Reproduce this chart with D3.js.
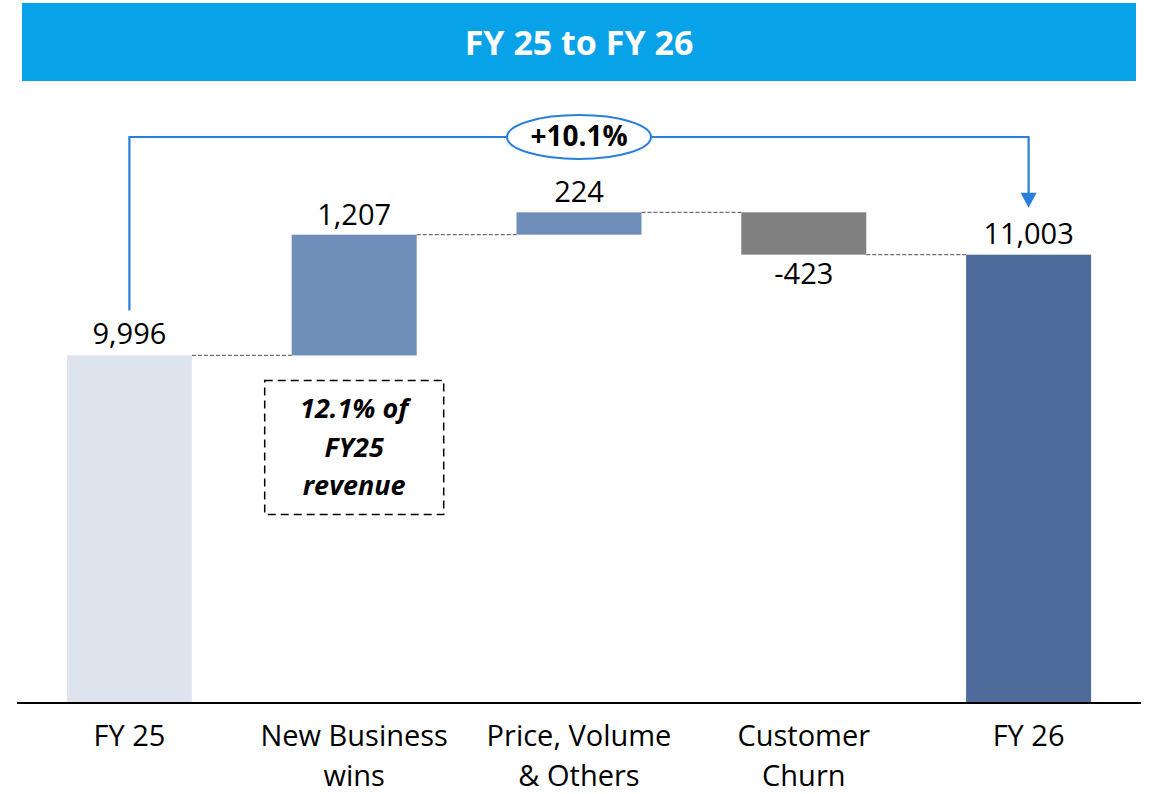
<html>
<head>
    <meta charset="utf-8">
    <title>FY 25 to FY 26</title>
</head>
<style>
    body { margin: 0; background: #fff; }
    text { font-family: "Open Sans", "Noto Sans", sans-serif; }
</style>
<body>
<svg width="1150" height="794"></svg>
<script src="https://d3js.org/d3.v7.min.js" charset="utf-8"></script>
<script>

    // data
    var categories = ['FY 25', 'New Business wins', 'Price, Volume & Others', 'Customer Churn', 'FY 26'];
    var categoryLines = [['FY 25'], ['New Business', 'wins'], ['Price, Volume', '& Others'], ['Customer', 'Churn'], ['FY 26']];
    var values = [9996, 1207, 224, -423, 11003];
    var kinds = ['total', 'delta', 'delta', 'delta', 'total'];
    var titleText = 'FY 25 to FY 26';
    var growthLabel = '+10.1%';
    var noteLines = ['12.1% of', 'FY25', 'revenue'];

    var barColors = ['#dee4ee', '#6f8fba', '#6f8fba', '#808080', '#4e6c9b'];
    var lineBlue = '#2a7fdb';

    // running totals -> start / end of each bar
    var run = 0;
    var bars = values.map(function (v, i) {
        var b = {cat: categories[i], value: v, kind: kinds[i], color: barColors[i], lines: categoryLines[i]};
        if (kinds[i] === 'total') {
            b.start = 0; b.end = v; run = v;
        } else {
            b.start = run; b.end = run + v; run = b.end;
        }
        return b;
    });

    var svg = d3.select('svg');

    var x = d3.scaleBand().domain(categories).range([17, 1141]).paddingInner(0.444).paddingOuter(0.222);
    // axis of the original is cut, it does not start at zero
    var y = d3.scaleLinear().domain([6520, 11520]).range([703, 203]);
    var bw = x.bandwidth();
    var fmt = d3.formatLocale({decimal: '.', thousands: ',', grouping: [3], currency: ['', ''], minus: '-'}).format(',');

    // title banner
    svg.append('rect')
        .attr('x', 22).attr('y', 3)
        .attr('width', 1114).attr('height', 78)
        .attr('fill', '#08a2e8');
    svg.append('text')
        .attr('x', 579).attr('y', 55)
        .attr('text-anchor', 'middle')
        .attr('font-size', '34px')
        .attr('font-weight', 'bold')
        .attr('fill', '#fff')
        .text(titleText);

    // connectors
    var links = bars.slice(0, -1).map(function (b, i) {
        return {x1: x(b.cat) + bw, x2: x(bars[i + 1].cat), v: b.kind === 'total' ? b.value : b.end};
    });
    svg.selectAll('.link').data(links).enter().append('line')
        .attr('class', 'link')
        .attr('x1', function (d) { return d.x1; })
        .attr('x2', function (d) { return d.x2; })
        .attr('y1', function (d) { return y(d.v); })
        .attr('y2', function (d) { return y(d.v); })
        .attr('stroke', '#6f6f6f')
        .attr('stroke-width', 1.3)
        .attr('stroke-dasharray', '4,2');

    // bars
    svg.selectAll('.bar').data(bars).enter().append('rect')
        .attr('class', 'bar')
        .attr('x', function (d) { return x(d.cat); })
        .attr('width', bw)
        .attr('y', function (d) {
            var top = d.kind === 'total' ? d.value : Math.max(d.start, d.end);
            return y(top);
        })
        .attr('height', function (d) {
            if (d.kind === 'total') return y.range()[0] - y(d.value);
            return Math.abs(y(d.start) - y(d.end));
        })
        .attr('fill', function (d) { return d.color; });

    // value labels
    svg.selectAll('.val').data(bars).enter().append('text')
        .attr('class', 'val')
        .attr('x', function (d) { return x(d.cat) + bw / 2; })
        .attr('y', function (d) {
            if (d.kind === 'total') return y(d.value) - 11;
            if (d.value < 0) return y(d.end) + 29;
            return y(d.end) - 10;
        })
        .attr('text-anchor', 'middle')
        .attr('font-size', '29px')
        .attr('fill', '#000')
        .text(function (d) { return fmt(d.value); });

    // baseline
    svg.append('line')
        .attr('x1', 17).attr('x2', 1141)
        .attr('y1', 703).attr('y2', 703)
        .attr('stroke', '#000')
        .attr('stroke-width', 2);

    // category labels
    var cat = svg.selectAll('.cat').data(bars).enter().append('text')
        .attr('class', 'cat')
        .attr('text-anchor', 'middle')
        .attr('font-size', '29px')
        .attr('fill', '#000');
    cat.selectAll('tspan').data(function (d) {
        return d.lines.map(function (l) { return {t: l, cx: x(d.cat) + bw / 2}; });
    }).enter().append('tspan')
        .attr('x', function (d) { return d.cx; })
        .attr('y', function (d, i) { return 746 + i * 40; })
        .text(function (d) { return d.t; });

    // growth bracket from FY 25 to FY 26
    var first = bars[0], last = bars[bars.length - 1];
    var bx1 = x(first.cat) + bw / 2, bx2 = x(last.cat) + bw / 2, by = 137;
    var tipY = y(last.value) - 47;
    svg.append('path')
        .attr('d', 'M' + bx1 + ',' + (y(first.value) - 45) + 'V' + by + 'H' + bx2 + 'V' + (tipY - 14))
        .attr('fill', 'none')
        .attr('stroke', lineBlue)
        .attr('stroke-width', 2.2);
    svg.append('path')
        .attr('d', 'M' + (bx2 - 8) + ',' + (tipY - 15) + 'L' + (bx2 + 8) + ',' + (tipY - 15) + 'L' + bx2 + ',' + tipY + 'Z')
        .attr('fill', lineBlue);

    svg.append('ellipse')
        .attr('cx', 579).attr('cy', by)
        .attr('rx', 72).attr('ry', 22)
        .attr('fill', '#fff')
        .attr('stroke', lineBlue)
        .attr('stroke-width', 2);
    svg.append('text')
        .attr('x', 579).attr('y', by + 9)
        .attr('text-anchor', 'middle')
        .attr('font-size', '28px')
        .attr('font-weight', 'bold')
        .attr('fill', '#000')
        .text(growthLabel);

    // note box under New Business wins
    var nb = bars[1];
    var ncx = x(nb.cat) + bw / 2, ntop = y(nb.start) + 25;
    svg.append('rect')
        .attr('x', ncx - 89.5).attr('y', ntop)
        .attr('width', 179).attr('height', 134)
        .attr('fill', 'none')
        .attr('stroke', '#000')
        .attr('stroke-width', 1.5)
        .attr('stroke-dasharray', '8,5');
    svg.append('text')
        .attr('text-anchor', 'middle')
        .attr('font-size', '27px')
        .attr('font-weight', 'bold')
        .attr('font-style', 'italic')
        .attr('fill', '#000')
        .selectAll('tspan').data(noteLines).enter().append('tspan')
        .attr('x', ncx)
        .attr('y', function (d, i) { return ntop + 38 + i * 38.5; })
        .text(function (d) { return d; });

</script>
</body>
</html>
